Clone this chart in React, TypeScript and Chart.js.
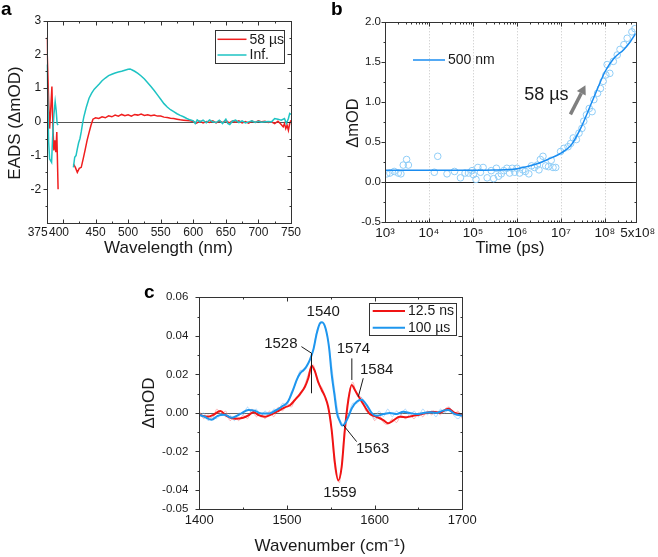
import React, { useEffect, useRef } from 'react';
import { Chart, registerables } from 'chart.js';

Chart.register(...registerables);

const W = 658;
const H = 557;
const FONT = "'Liberation Sans', Arial, Helvetica, sans-serif";
const INK = '#1a1a1a';
const FRAME = '#333333';
Chart.defaults.font.family = FONT;
Chart.defaults.color = INK;

// ---------------- Panel a : EADS ----------------
const aRedWave = [375, 376.5, 378, 379.5, 381, 383, 384.5, 386, 387.5, 389, 390.5, 392.5, 405,
  416, 419, 422, 425, 428, 431, 434, 437, 440, 443, 446,
  450, 455, 460, 465, 470, 475, 480, 485, 490, 495, 500, 505, 510, 515, 520, 525, 530, 535, 540, 545,
  550, 555, 560, 565, 570, 575, 580, 585, 590, 595, 600, 605, 610, 615, 620, 625, 630, 635, 640, 645,
  650, 655, 660, 665, 670, 675, 680, 685, 690, 695, 700, 705, 710, 715, 720, 725, 730, 735,
  738, 740, 742, 744, 746, 748, 750];
const aRedEads = [2.5, 1.6, 0.6, -0.2, 0.3, 1.05, -0.1, -0.85, -0.55, -0.9, -0.3, -2.0, null,
  -1.25, -1.35, -1.5, -1.38, -1.35, -1.1, -0.83, -0.55, -0.32, -0.1, 0.08,
  0.12, 0.1, 0.15, 0.12, 0.18, 0.15, 0.2, 0.17, 0.22, 0.18, 0.21, 0.17, 0.22, 0.2, 0.23, 0.19, 0.21, 0.18, 0.2, 0.17,
  0.17, 0.14, 0.13, 0.11, 0.1, 0.08, 0.06, 0.05, 0.04, 0.03, 0.01, -0.04, 0.02, -0.03, 0.01, -0.02, 0.03, -0.03, 0.02, -0.02,
  0.04, -0.03, 0.02, -0.01, 0.03, -0.03, 0.01, -0.04, 0.02, -0.02, 0.03, 0.0, 0.02, -0.02, 0.0, -0.05, 0.02, -0.08,
  -0.15, -0.05, -0.2, -0.1, -0.25, -0.05, 0.05];

const aCyanWave = [375, 376.5, 378, 379.5, 381, 382.5, 384, 386, 388, 389.5, 391, 392.5, 405,
  416, 418, 420, 422, 424, 426, 428, 430, 432, 434, 436, 440, 444, 448, 452, 456, 460, 465, 470, 475,
  480, 485, 490, 495, 500, 503, 507, 510, 515, 520, 525, 530, 535, 540, 545, 550, 555, 560, 565, 570,
  575, 580, 585, 590, 595, 600, 603, 606, 610, 615, 620, 625, 630, 635, 640, 645, 650, 653, 656, 660,
  665, 670, 675, 680, 685, 690, 695, 700, 705, 710, 715, 720, 725, 730, 735, 740, 743, 746, 748, 750];
const aCyanEads = [1.7, 0.8, -0.6, -1.1, -1.15, -1.2, -0.5, 0.2, 0.6, 0.35, -0.05, -0.1, null,
  -1.35, -1.05, -1.0, -0.8, -0.62, -0.5, -0.3, -0.05, 0.15, 0.3, 0.45, 0.7, 0.85, 0.97, 1.05, 1.13, 1.22, 1.3, 1.37, 1.41,
  1.45, 1.48, 1.5, 1.53, 1.56, 1.57, 1.53, 1.5, 1.44, 1.36, 1.27, 1.16, 1.05, 0.93, 0.8, 0.67, 0.54, 0.44, 0.36, 0.3,
  0.24, 0.19, 0.15, 0.1, 0.06, 0.03, -0.05, 0.06, 0.0, 0.05, -0.03, 0.06, 0.0, -0.02, 0.05, -0.05, 0.08, -0.05, -0.08, 0.02,
  0.05, -0.02, 0.03, -0.03, 0.0, 0.03, -0.02, 0.02, -0.01, 0.0, 0.01, 0.0, 0.1, 0.08, 0.05, 0.1, -0.05, 0.1, 0.25, 0.22];

const aXTicks = [375, 400, 450, 500, 550, 600, 650, 700, 750];
const aXLabels = ['375', '400', '450', '500', '550', '600', '650', '700', '750'];
const aXMinor = [425, 475, 525, 575, 625, 675, 725];
const aYTicks = [-2, -1, 0, 1, 2, 3];
const aYMinor = [-2.5, -1.5, -0.5, 0.5, 1.5, 2.5];
const aLegend = ['58 µs', 'Inf.'];

// ---------------- Panel b : kinetics at 500 nm ----------------
const bTime = [1.1e3, 1.29e3, 1.62e3, 2.0e3, 2.3e3, 2.6e3, 3.1e3, 3.4e3, 1.32e4, 1.58e4, 2.57e4, 3.8e4, 5.2e4,
  6.6e4, 7.9e4, 9.5e4, 1.02e5, 1.17e5, 1.29e5, 1.48e5, 1.7e5, 2.1e5, 2.6e5, 2.95e5, 3.4e5, 3.8e5, 4.4e5,
  5.0e5, 5.9e5, 6.8e5, 7.8e5, 8.9e5, 1.0e6, 1.15e6, 1.35e6, 1.55e6, 1.86e6, 2.14e6, 2.5e6, 2.9e6, 3.16e6,
  3.4e6, 3.9e6, 4.5e6, 5.2e6, 6.0e6, 6.6e6, 7.6e6, 9.8e6, 1.17e7, 1.45e7, 1.66e7, 1.9e7, 2.24e7, 2.57e7,
  3.0e7, 3.3e7, 3.8e7, 4.4e7, 5.1e7, 5.6e7, 6.8e7, 7.9e7, 9.1e7, 1.05e8, 1.12e8, 1.29e8, 1.55e8, 1.9e8,
  2.2e8, 2.7e8, 3.2e8, 4.1e8, 4.8e8];
const bSignal = [0.10, 0.11, 0.13, 0.11, 0.10, 0.21, 0.28, 0.21, 0.12, 0.32, 0.10, 0.13, 0.05,
  0.11, 0.11, 0.14, 0.09, 0.03, 0.18, 0.12, 0.18, 0.05, 0.14, 0.04, 0.17, 0.07, 0.10,
  0.14, 0.17, 0.11, 0.17, 0.12, 0.17, 0.11, 0.15, 0.13, 0.10, 0.20, 0.18, 0.21, 0.15,
  0.28, 0.32, 0.20, 0.19, 0.27, 0.18, 0.18, 0.38, 0.42, 0.44, 0.48, 0.55, 0.53, 0.61,
  0.67, 0.76, 0.84, 0.92, 0.88, 1.03, 1.11, 1.17, 1.26, 1.34, 1.47, 1.36, 1.51, 1.59,
  1.66, 1.72, 1.80, 1.88, 1.92];
const bFitTime = [1e3, 1e4, 1e5, 3e5, 1e6, 3e6, 5e6, 1e7, 1.7e7, 2.8e7, 4.7e7, 6.8e7, 1e8, 1.6e8, 2.7e8, 3.8e8, 5e8];
const bFitSignal = [0.145, 0.145, 0.145, 0.148, 0.165, 0.23, 0.28, 0.36, 0.46, 0.67, 0.96, 1.17, 1.38, 1.55, 1.66, 1.76, 1.86];
const bXTicks = [1e3, 1e4, 1e5, 1e6, 1e7, 1e8, 5e8];
const bXLabels = ['10³', '10⁴', '10⁵', '10⁶', '10⁷', '10⁸', '5x10⁸'];
const bXGrid = [1e4, 1e5, 1e6, 1e7, 1e8];
const bYTicks = [-0.5, 0, 0.5, 1, 1.5, 2];
const bYMinor = [-0.25, 0.25, 0.75, 1.25, 1.75];
const bLegend = '500 nm';
const bLifetime = '58 µs';

// ---------------- Panel c : IR difference spectra ----------------
const cRedWn = [1400, 1410, 1416, 1424, 1431, 1441, 1450, 1457, 1462, 1467, 1475, 1482.5, 1490, 1497.7, 1503.4,
  1509, 1514.8, 1520.5, 1524.3, 1528.2, 1532, 1535.7, 1539.6, 1543.4, 1547, 1551, 1554.7, 1558.5, 1562.4,
  1566, 1570, 1573.8, 1577.5, 1583, 1588.9, 1594.6, 1602, 1609.8, 1615.5, 1621, 1628.8, 1636.5, 1644,
  1651.6, 1659, 1666.8, 1674.5, 1684, 1691.6, 1700];
const cRed = [-0.001, -0.002, -0.001, 0.001, -0.0015, -0.003, -0.0025, -0.001, 0.0005, -0.001, -0.002, -0.0007, 0.001, 0.0029, 0.004,
  0.0067, 0.0098, 0.0136, 0.018, 0.0245, 0.0214, 0.016, 0.0119, 0.0084, 0.0032, -0.0089, -0.026, -0.035, -0.028,
  -0.0089, 0.0067, 0.0145, 0.0119, 0.0076, 0.0032, -0.0006, -0.002, -0.0037, -0.0054, -0.004, -0.002, -0.0022, -0.0015,
  -0.0008, 0.0, 0.0006, 0.0002, 0.0022, 0.0, -0.0008];
const cBlueWn = [1400, 1406, 1414, 1421, 1429, 1437, 1445, 1456, 1463, 1471, 1479, 1486, 1494, 1501, 1507, 1511, 1515,
  1519, 1522, 1526, 1530, 1534, 1537.6, 1540, 1544, 1548, 1551, 1554, 1557, 1560, 1563, 1566, 1570, 1574,
  1579.5, 1585, 1591, 1596.6, 1602, 1610, 1617.5, 1625, 1632.6, 1640, 1648, 1655.5, 1663, 1670.7, 1678,
  1684, 1691.6, 1700];
const cBlue = [-0.001, -0.002, -0.0035, -0.0015, -0.001, -0.0025, -0.001, 0.0015, 0.0012, -0.0003, -0.0003, 0.001, 0.0032, 0.0058, 0.012, 0.017, 0.0205,
  0.0223, 0.024, 0.0274, 0.0326, 0.0413, 0.0465, 0.047, 0.0439, 0.034, 0.02, 0.01, 0.0, -0.004, -0.0065, -0.0055, -0.002, 0.0024,
  0.0058, 0.0068, 0.0041, 0.0, -0.0015, -0.0006, 0.0, -0.0006, 0.0006, 0.0, -0.0006, 0.0, 0.0004, 0.0, 0.0012,
  0.0015, -0.0006, -0.0015];
const cRawWn = [1400, 1405, 1410, 1415, 1420, 1425, 1430, 1435, 1440, 1445, 1450, 1455, 1460, 1465, 1470, 1475, 1480, 1485,
  1490, 1495, 1500, 1505, 1510, 1515, 1520, 1525, 1530, 1535, 1540, 1545, 1550, 1555, 1560, 1565, 1570, 1575, 1580,
  1585, 1590, 1595, 1600, 1605, 1610, 1615, 1620, 1625, 1630, 1635, 1640, 1645, 1650, 1655, 1660, 1665, 1670, 1675,
  1680, 1685, 1690, 1695, 1700];
const cRedRaw = [0.001, -0.003, -0.001, -0.003, 0.002, -0.001, 0.001, -0.004, -0.002, -0.004, -0.001, -0.003, 0.002, -0.002,
  0.0, -0.003, 0.001, -0.002, 0.003, 0.001, 0.005, 0.003, 0.008, 0.009, 0.014, 0.021, 0.025, 0.016, 0.013, 0.006, -0.004,
  -0.03, -0.036, -0.012, 0.008, 0.016, 0.009, 0.008, 0.001, 0.001, -0.004, -0.001, -0.005, -0.006, -0.003, -0.005, -0.001,
  -0.003, -0.001, -0.003, 0.0, -0.002, 0.001, -0.001, 0.001, -0.001, 0.002, 0.003, -0.001, 0.001, -0.003];
const cBlueRaw = [-0.002, 0.0, -0.004, -0.002, -0.003, 0.0, -0.002, -0.001, -0.004, 0.0, -0.001, 0.003, 0.0, 0.002, -0.002,
  0.001, -0.001, 0.002, 0.001, 0.005, 0.004, 0.011, 0.015, 0.022, 0.022, 0.026, 0.033, 0.044, 0.047, 0.042, 0.028, 0.01,
  -0.003, -0.006, -0.001, 0.005, 0.005, 0.008, 0.004, 0.001, -0.003, 0.001, -0.002, 0.002, -0.002, 0.001, -0.001, 0.002,
  -0.002, 0.001, -0.002, 0.002, -0.001, 0.001, -0.002, 0.002, 0.0, 0.003, -0.001, -0.003, -0.001];
const cXTicks = [1400, 1500, 1600, 1700];
const cXLabels = ['1400', '1500', '1600', '1700'];
const cXMinor = [1450, 1550, 1650];
const cYTicks = [-0.05, -0.04, -0.02, 0, 0.02, 0.04, 0.06];
const cYMinor = [-0.03, -0.01, 0.01, 0.03, 0.05];
const cLegend = ['12.5 ns', '100 µs'];
const cPeakLabels = ['1540', '1528', '1574', '1584', '1563', '1559'];

// ---------------- colours ----------------
const A_RED = '#f01e1e';
const A_CYAN = '#1ec3c3';
const B_LINE = '#1a8cf0';
const B_DOT = '#8fcdf7';
const C_RED = '#f01414';
const C_BLUE = '#1e96ee';

// ---------------- decoration plugin ----------------
type Txt = { t: string; x?: number; y?: number; px?: number; py?: number; below?: number; dx?: number; size: number; align?: CanvasTextAlign };
type Seg = { p: [number, number][]; color?: string; w?: number };
interface Deco {
  xMajor: number[]; xMinor: number[]; yMajor: number[]; yMinor: number[];
  leftOut?: boolean;
  zero?: string;
  vgrid?: number[];
  texts?: Txt[];
  segs?: Seg[];
  arrow?: { from: [number, number]; to: [number, number]; color: string; w: number };
  legend?: { box?: [number, number, number, number]; size: number; items: { x1: number; x2: number; y: number; color: string; w: number; label: string }[] };
  titles: { t: string; cx: number; cy: number; rot?: boolean; size: number }[];
  letter: { t: string; x: number; y: number };
}

function makeDeco(d: Deco) {
  return {
    id: 'deco',
    beforeDatasetsDraw(chart: any) {
      const { ctx, chartArea: ca, scales } = chart;
      const x = scales.x, y = scales.y;
      ctx.save();
      if (d.vgrid) {
        ctx.strokeStyle = '#c4c4c4';
        ctx.lineWidth = 1;
        ctx.setLineDash([1, 2]);
        for (const v of d.vgrid) {
          const px = Math.round(x.getPixelForValue(v)) + 0.5;
          ctx.beginPath(); ctx.moveTo(px, ca.top); ctx.lineTo(px, ca.bottom); ctx.stroke();
        }
        ctx.setLineDash([]);
      }
      if (d.zero) {
        const py = Math.round(y.getPixelForValue(0)) + 0.5;
        ctx.strokeStyle = d.zero; ctx.lineWidth = 1;
        ctx.beginPath(); ctx.moveTo(ca.left, py); ctx.lineTo(ca.right, py); ctx.stroke();
      }
      ctx.restore();
    },
    afterDatasetsDraw(chart: any) {
      const { ctx, chartArea: ca, scales } = chart;
      const x = scales.x, y = scales.y;
      ctx.save();
      ctx.strokeStyle = FRAME; ctx.lineWidth = 1;
      const l = Math.round(ca.left) + 0.5, t = Math.round(ca.top) + 0.5;
      const r = Math.round(ca.right) + 0.5, b = Math.round(ca.bottom) + 0.5;
      ctx.strokeRect(l, t, r - l, b - t);
      const tx = (v: number, len: number) => {
        const px = Math.round(x.getPixelForValue(v)) + 0.5;
        ctx.moveTo(px, b); ctx.lineTo(px, b - len);
        ctx.moveTo(px, t); ctx.lineTo(px, t + len);
      };
      const ty = (v: number, len: number) => {
        const py = Math.round(y.getPixelForValue(v)) + 0.5;
        if (d.leftOut) { ctx.moveTo(l, py); ctx.lineTo(l - len, py); } else { ctx.moveTo(l, py); ctx.lineTo(l + len, py); }
        ctx.moveTo(r, py); ctx.lineTo(r - len, py);
      };
      ctx.beginPath();
      d.xMajor.forEach(v => tx(v, 4));
      d.xMinor.forEach(v => tx(v, 2));
      d.yMajor.forEach(v => ty(v, 4));
      d.yMinor.forEach(v => ty(v, 2));
      ctx.stroke();
      for (const s of d.segs || []) {
        ctx.strokeStyle = s.color || INK; ctx.lineWidth = s.w || 1;
        ctx.beginPath();
        s.p.forEach(([vx, vy], i) => {
          const px = x.getPixelForValue(vx), py = y.getPixelForValue(vy);
          if (i === 0) ctx.moveTo(px, py); else ctx.lineTo(px, py);
        });
        ctx.stroke();
      }
      if (d.arrow) {
        const a = d.arrow;
        const x0 = x.getPixelForValue(a.from[0]), y0 = y.getPixelForValue(a.from[1]);
        const x1 = x.getPixelForValue(a.to[0]), y1 = y.getPixelForValue(a.to[1]);
        const ang = Math.atan2(y1 - y0, x1 - x0);
        const hl = 9, hw = 5;
        const bx = x1 - hl * Math.cos(ang), by = y1 - hl * Math.sin(ang);
        ctx.strokeStyle = a.color; ctx.fillStyle = a.color; ctx.lineWidth = a.w;
        ctx.beginPath(); ctx.moveTo(x0, y0); ctx.lineTo(bx, by); ctx.stroke();
        ctx.beginPath();
        ctx.moveTo(x1, y1);
        ctx.lineTo(bx + hw * Math.sin(ang), by - hw * Math.cos(ang));
        ctx.lineTo(bx - hw * Math.sin(ang), by + hw * Math.cos(ang));
        ctx.closePath(); ctx.fill();
      }
      ctx.fillStyle = INK;
      ctx.textBaseline = 'middle';
      for (const tt of d.texts || []) {
        ctx.font = `${tt.size}px ${FONT}`;
        ctx.textAlign = tt.align || 'center';
        const px = (tt.x !== undefined ? x.getPixelForValue(tt.x) : tt.px!) + (tt.dx || 0);
        const py = tt.below !== undefined ? ca.bottom + tt.below : (tt.y !== undefined ? y.getPixelForValue(tt.y) : tt.py!);
        ctx.fillText(tt.t, px, py);
      }
      if (d.legend) {
        const lg = d.legend;
        if (lg.box) {
          const [x0, y0, x1, y1] = lg.box;
          ctx.strokeStyle = FRAME; ctx.lineWidth = 1;
          ctx.strokeRect(Math.round(x0) + 0.5, Math.round(y0) + 0.5, Math.round(x1 - x0), Math.round(y1 - y0));
        }
        ctx.font = `${lg.size}px ${FONT}`;
        ctx.textAlign = 'left';
        for (const it of lg.items) {
          ctx.strokeStyle = it.color; ctx.lineWidth = it.w;
          ctx.beginPath(); ctx.moveTo(it.x1, it.y); ctx.lineTo(it.x2, it.y); ctx.stroke();
          ctx.fillStyle = INK;
          ctx.fillText(it.label, it.x2 + 3, it.y + 0.5);
        }
      }
      for (const ti of d.titles) {
        ctx.font = `${ti.size}px ${FONT}`;
        ctx.textAlign = 'center'; ctx.textBaseline = 'middle'; ctx.fillStyle = INK;
        if (ti.rot) {
          ctx.save(); ctx.translate(ti.cx, ti.cy); ctx.rotate(-Math.PI / 2); ctx.fillText(ti.t, 0, 0); ctx.restore();
        } else ctx.fillText(ti.t, ti.cx, ti.cy);
      }
      ctx.font = `bold 19px ${FONT}`;
      ctx.textAlign = 'left'; ctx.textBaseline = 'alphabetic'; ctx.fillStyle = '#000';
      ctx.fillText(d.letter.t, d.letter.x, d.letter.y);
      ctx.restore();
    },
  };
}

// ---------------- config helpers ----------------
const YW = 40;
const XH = 30;
type Box = { L: number; T: number; R: number; B: number };
const pad = (b: Box) => ({ left: b.L - YW, top: b.T, right: W - b.R, bottom: H - b.B - XH });

function xAxis(type: string, min: number, max: number) {
  return {
    type, min, max,
    afterFit: (s: any) => { s.height = XH; },
    grid: { display: false, drawTicks: false, tickLength: 0 }, border: { display: false },
    ticks: { display: false },
  };
}
function yAxis(min: number, max: number, ticks: number[], label: (v: number) => string, size: number, padding: number) {
  return {
    type: 'linear', min, max,
    afterBuildTicks: (s: any) => { s.ticks = ticks.map(v => ({ value: v })); },
    afterFit: (s: any) => { s.width = YW; },
    grid: { display: false, drawTicks: false, tickLength: 0 }, border: { display: false },
    ticks: { padding, color: INK, font: { size, family: FONT }, callback: (v: any) => label(Number(v)) },
  };
}
const baseOptions = (b: Box) => ({
  responsive: false, animation: false as const, devicePixelRatio: 1,
  layout: { padding: pad(b) },
  plugins: { legend: { display: false }, tooltip: { enabled: false } },
  events: [] as any[],
});
const zip = (xs: number[], ys: (number | null)[]) => xs.map((v, i) => ({ x: v, y: ys[i] ?? null }));
const xTickTexts = (vals: number[], labels: string[], below: number, size: number, dxs: number[] = []): Txt[] =>
  vals.map((v, i) => ({ t: labels[i], x: v, below, size, dx: dxs[i] || 0 }));

function configA(): any {
  const box = { L: 46.7, T: 20.7, R: 291, B: 223 };
  return {
    type: 'line',
    data: {
      datasets: [
        { data: zip(aCyanWave, aCyanEads), borderColor: A_CYAN, borderWidth: 1.5, pointRadius: 0, spanGaps: false, tension: 0 },
        { data: zip(aRedWave, aRedEads), borderColor: A_RED, borderWidth: 1.5, pointRadius: 0, spanGaps: false, tension: 0 },
      ],
    },
    options: {
      ...baseOptions(box),
      scales: {
        x: xAxis('linear', 375, 750),
        y: yAxis(-3, 3, aYTicks, v => String(v), 12, 5.5),
      },
    },
    plugins: [makeDeco({
      xMajor: aXTicks, xMinor: aXMinor, yMajor: aYTicks, yMinor: aYMinor, leftOut: true,
      zero: '#555555',
      texts: xTickTexts(aXTicks, aXLabels, 9.5, 12, [-9, -4]),
      legend: {
        box: [215, 30, 284, 63.3], size: 14,
        items: [
          { x1: 217.5, x2: 246.5, y: 39.3, color: A_RED, w: 1.5, label: aLegend[0] },
          { x1: 217.5, x2: 246.5, y: 55, color: A_CYAN, w: 1.5, label: aLegend[1] },
        ],
      },
      titles: [
        { t: 'EADS (ΔmOD)', cx: 15, cy: 123, rot: true, size: 17 },
        { t: 'Wavelength (nm)', cx: 168.5, cy: 248.5, size: 17 },
      ],
      letter: { t: 'a', x: 1, y: 15 },
    })],
  };
}

function configB(): any {
  const box = { L: 385, T: 22.3, R: 635.7, B: 221.7 };
  const minor: number[] = [];
  for (let e = 3; e <= 8; e++) for (let k = 2; k <= 9; k++) { const v = k * Math.pow(10, e); if (v < 5e8) minor.push(v); }
  return {
    type: 'line',
    data: {
      datasets: [
        { data: zip(bFitTime, bFitSignal), borderColor: B_LINE, borderWidth: 1.5, pointRadius: 0, cubicInterpolationMode: 'monotone' },
        { data: zip(bTime, bSignal), showLine: false, pointRadius: 3.3, pointBorderWidth: 1, pointBorderColor: B_DOT, pointBackgroundColor: 'rgba(0,0,0,0)', borderColor: B_DOT },
      ],
    },
    options: {
      ...baseOptions(box),
      scales: {
        x: xAxis('logarithmic', 1e3, 5e8),
        y: yAxis(-0.5, 2, bYTicks, v => v.toFixed(1), 11.5, 4),
      },
    },
    plugins: [makeDeco({
      xMajor: bXTicks, xMinor: minor, yMajor: bYTicks, yMinor: bYMinor, leftOut: true,
      zero: '#222222', vgrid: bXGrid,
      texts: [
        ...xTickTexts(bXTicks, bXLabels, 11.5, 13.5, [0, 0, 0, 0, 0, 0, 2]),
        { t: bLifetime, x: 4.65e6, y: 1.09, size: 18 },
      ],
      arrow: { from: [1.64e7, 0.846], to: [3.6e7, 1.21], color: '#7f7f7f', w: 3.5 },
      legend: { size: 14, items: [{ x1: 413, x2: 445, y: 60, color: B_LINE, w: 1.5, label: bLegend }] },
      titles: [
        { t: 'ΔmOD', cx: 353, cy: 123, rot: true, size: 16.5 },
        { t: 'Time (ps)', cx: 510, cy: 248.5, size: 16.5 },
      ],
      letter: { t: 'b', x: 331, y: 15 },
    })],
  };
}

function configC(): any {
  const box = { L: 199.3, T: 297.3, R: 462.3, B: 509.3 };
  return {
    type: 'line',
    data: {
      datasets: [
        { data: zip(cBlueWn, cBlue), borderColor: C_BLUE, borderWidth: 2, pointRadius: 0, cubicInterpolationMode: 'monotone' },
        { data: zip(cRedWn, cRed), borderColor: C_RED, borderWidth: 2, pointRadius: 0, cubicInterpolationMode: 'monotone' },
        { data: zip(cRawWn, cBlueRaw), borderColor: 'rgba(120,190,250,0.55)', borderWidth: 1, pointRadius: 0, tension: 0.3 },
        { data: zip(cRawWn, cRedRaw), borderColor: 'rgba(250,130,130,0.55)', borderWidth: 1, pointRadius: 0, tension: 0.3 },
      ],
    },
    options: {
      ...baseOptions(box),
      scales: {
        x: xAxis('linear', 1400, 1700),
        y: yAxis(-0.05, 0.06, cYTicks, v => v.toFixed(2), 11.5, 11),
      },
    },
    plugins: [makeDeco({
      xMajor: cXTicks, xMinor: cXMinor, yMajor: cYTicks, yMinor: cYMinor, leftOut: true,
      zero: '#666666',
      texts: [
        ...xTickTexts(cXTicks, cXLabels, 10.7, 13),
        { t: cPeakLabels[0], x: 1541.4, y: 0.0522, size: 15 },
        { t: cPeakLabels[1], x: 1493, y: 0.0361, size: 15 },
        { t: cPeakLabels[2], x: 1575.8, y: 0.0332, size: 15 },
        { t: cPeakLabels[3], x: 1602.3, y: 0.0223, size: 15 },
        { t: cPeakLabels[4], x: 1597.8, y: -0.0184, size: 15 },
        { t: cPeakLabels[5], x: 1560.5, y: -0.0417, size: 15 },
      ],
      segs: [
        { p: [[1516.5, 0.0344], [1528, 0.031], [1528, 0.0102]] },
        { p: [[1574, 0.0283], [1574, 0.0171]] },
        { p: [[1587, 0.018], [1581.4, 0.0084]] },
        { p: [[1564.3, -0.0063], [1579.5, -0.0149]] },
      ],
      legend: {
        box: [369.3, 303.3, 456, 335], size: 14,
        items: [
          { x1: 372.7, x2: 405, y: 311, color: C_RED, w: 2, label: cLegend[0] },
          { x1: 372.7, x2: 405, y: 327.7, color: C_BLUE, w: 2, label: cLegend[1] },
        ],
      },
      titles: [
        { t: 'ΔmOD', cx: 149, cy: 403, rot: true, size: 17 },
        { t: 'Wavenumber (cm⁻¹)', cx: 330, cy: 546.5, size: 17 },
      ],
      letter: { t: 'c', x: 144, y: 298 },
    })],
  };
}

export default function App() {
  const ra = useRef<HTMLCanvasElement>(null);
  const rb = useRef<HTMLCanvasElement>(null);
  const rc = useRef<HTMLCanvasElement>(null);
  useEffect(() => {
    const charts = [
      new Chart(ra.current!, configA()),
      new Chart(rb.current!, configB()),
      new Chart(rc.current!, configC()),
    ];
    return () => charts.forEach(c => c.destroy());
  }, []);
  const cs: React.CSSProperties = { position: 'absolute', left: 0, top: 0, width: W, height: H };
  return (
    <div style={{ position: 'absolute', left: 0, top: 0, width: W, height: H, background: '#ffffff', overflow: 'hidden' }}>
      <canvas ref={ra} width={W} height={H} style={cs} />
      <canvas ref={rb} width={W} height={H} style={cs} />
      <canvas ref={rc} width={W} height={H} style={cs} />
    </div>
  );
}
